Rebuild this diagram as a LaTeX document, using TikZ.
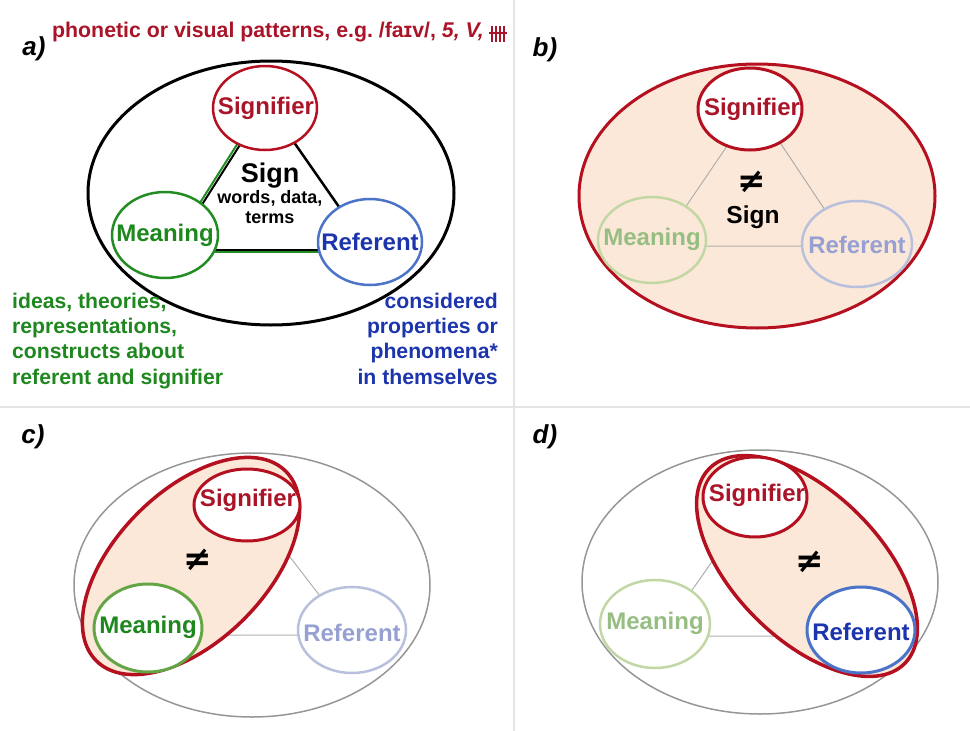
\documentclass[tikz,border=0pt]{standalone}
\usepackage{fontspec}
\setmainfont{Liberation Sans}
\newfontfamily\dejavu{DejaVu Sans}
\usetikzlibrary{shapes.geometric}
\definecolor{sred}{RGB}{180,16,32}
\definecolor{sredtext}{RGB}{170,20,40}
\definecolor{sgreen}{RGB}{30,135,30}
\definecolor{sgreenline}{RGB}{35,140,35}
\definecolor{cgreenline}{RGB}{100,165,70}
\definecolor{sblue}{RGB}{28,52,172}
\definecolor{sblueline}{RGB}{75,115,200}
\definecolor{fgreenline}{RGB}{195,215,165}
\definecolor{fgreentext}{RGB}{150,190,130}
\definecolor{fblueline}{RGB}{185,192,222}
\definecolor{fbluetext}{RGB}{150,160,210}
\definecolor{peach}{RGB}{252,232,216}
\definecolor{outergray}{RGB}{150,150,150}
\definecolor{trigray}{RGB}{175,175,175}
\definecolor{sepgray}{RGB}{228,228,228}
\tikzset{
  ell/.style={ellipse, inner sep=0pt, outer sep=0pt},
  lab/.style={font=\bfseries\fontsize{24}{28}\selectfont, inner sep=0pt},
  panel/.style={font=\bfseries\itshape\fontsize{26}{30}\selectfont, inner sep=0pt},
  note/.style={font=\bfseries\fontsize{21.2}{25.4}\selectfont, inner sep=0pt},
  neq/.style={font=\dejavu\bfseries\fontsize{34}{38}\selectfont, inner sep=0pt},
  tri/.style={trigray, line width=1pt},
  outer/.style={ell, draw=outergray, line width=1.5pt},
}
\begin{document}
\begin{tikzpicture}[x=1pt,y=-1pt]
\useasboundingbox (0,0) rectangle (970,731);
% separators
\draw[sepgray, line width=2pt] (514,0) -- (514,731);
\draw[sepgray, line width=2pt] (0,407) -- (970,407);

% ---------------- panel a
\node[panel] (la) at (34,49) {a)};
\node[sredtext, inner sep=0pt, anchor=base west, font=\bfseries\fontsize{21.3}{25}\selectfont] (ta) at (52,37)
  {phonetic or visual patterns, e.g.\ /faɪv/, \textit{5, V,}};
\coordinate (t1) at (492,26); \coordinate (t1b) at (492,42);
\coordinate (t2) at (496,26); \coordinate (t2b) at (496,42);
\coordinate (t3) at (500,26); \coordinate (t3b) at (500,42);
\coordinate (t4) at (504,26); \coordinate (t4b) at (504,42);
\coordinate (th1) at (489,33); \coordinate (th2) at (507,33);
\draw[sredtext, line width=1.6pt] (t1)--(t1b) (t2)--(t2b) (t3)--(t3b) (t4)--(t4b) (th1)--(th2);

\node[ell, draw=black, line width=3pt, minimum width=366pt, minimum height=264pt] (aO) at (271,193) {};
\coordinate (aT) at (266,102); \coordinate (aL) at (172,250); \coordinate (aR) at (369,250);
\draw[sgreenline, line width=2pt] ([xshift=-2pt]aT) -- ([xshift=-2pt]aL);
\draw[black, line width=2pt] ([xshift=1.2pt]aT) -- ([xshift=1.2pt]aL);
\draw[black, line width=3pt] (aL) -- (aR);
\draw[sgreenline, line width=1.5pt] ([yshift=-2pt]aL) -- ([yshift=-2pt]aR);
\draw[black, line width=2.5pt] (aT) -- (aR);
\node[ell, draw=sred, line width=2.5pt, fill=white, minimum width=104pt, minimum height=84pt] (aS) at (265,108) {};
\node[ell, draw=sgreenline, line width=2.5pt, fill=white, minimum width=106pt, minimum height=86pt] (aM) at (165,235) {};
\node[ell, draw=sblueline, line width=2.5pt, fill=white, minimum width=104pt, minimum height=86pt] (aR2) at (370,242) {};
\node[lab, sredtext] (aSt) at (266,108) {Signifier};
\node[lab, sgreen] (aMt) at (165,235) {Meaning};
\node[lab, sblue] (aRt) at (370,242) {Referent};
\node[inner sep=0pt, font=\bfseries\fontsize{27}{30}\selectfont] (aSign) at (270,176) {Sign};
\node[inner sep=0pt, align=center, font=\bfseries\fontsize{18}{20.5}\selectfont, anchor=north] (aWords) at (270,190) {words, data,\\terms};
\node[note, sgreen, align=left, anchor=north west] (gn) at (12,292.5)
  {ideas, theories,\\representations,\\constructs about\\referent and signifier};
\node[note, sblue, align=right, anchor=north east] (bn) at (498,292.5)
  {considered\\properties or\\phenomena*\\in themselves};

% ---------------- panel b
\node[panel] (lb) at (545,50) {b)};
\node[ell, draw=sred, line width=3pt, fill=peach, minimum width=356pt, minimum height=264pt] (bO) at (757,196) {};
\coordinate (bT) at (755,105); \coordinate (bL) at (659,246); \coordinate (bR) at (849,246);
\draw[tri] (bT) -- (bL) -- (bR) -- cycle;
\node[ell, draw=sred, line width=3pt, fill=white, minimum width=104pt, minimum height=82pt] (bS) at (750,109) {};
\node[ell, draw=fgreenline, line width=2.5pt, fill=peach, minimum width=108pt, minimum height=86pt] (bM) at (652,240) {};
\node[ell, draw=fblueline, line width=2.5pt, fill=peach, minimum width=110pt, minimum height=86pt] (bR2) at (857,244) {};
\node[lab, sredtext] (bSt) at (752,109) {Signifier};
\node[lab, fgreentext] (bMt) at (652,239) {Meaning};
\node[lab, fbluetext] (bRt) at (857,245) {Referent};
\node[neq] (bNe) at (752,182) {≠};
\node[inner sep=0pt, font=\bfseries\fontsize{24.5}{28}\selectfont] (bSign) at (753,217) {Sign};

% ---------------- panel c
\node[panel] (lc) at (33,437) {c)};
\node[outer, minimum width=356pt, minimum height=264pt] (cO) at (252,585) {};
\coordinate (cT) at (250,505); \coordinate (cL) at (150,635); \coordinate (cR) at (350,635);
\draw[tri] (cT) -- (cL) -- (cR) -- cycle;
\node[ell, draw=sred, line width=3.5pt, fill=peach, minimum width=268pt, minimum height=150pt, rotate=45] (cE) at (191,566) {};
\node[ell, draw=sred, line width=3pt, fill=white, minimum width=106pt, minimum height=72pt] (cS) at (247,505) {};
\node[ell, draw=cgreenline, line width=3pt, fill=white, minimum width=108pt, minimum height=88pt] (cM) at (148,628) {};
\node[ell, draw=fblueline, line width=2.5pt, fill=white, minimum width=108pt, minimum height=86pt] (cR2) at (352,630) {};
\node[lab, sredtext] (cSt) at (248,500) {Signifier};
\node[lab, sgreen] (cMt) at (148,627) {Meaning};
\node[lab, fbluetext] (cRt) at (352,633) {Referent};
\node[neq] (cNe) at (198,560) {≠};

% ---------------- panel d
\node[panel] (ld) at (545,437) {d)};
\node[outer, minimum width=356pt, minimum height=264pt] (dO) at (760,582) {};
\coordinate (dT) at (755,500); \coordinate (dL) at (660,636); \coordinate (dR) at (855,636);
\draw[tri] (dT) -- (dL) -- (dR) -- cycle;
\node[ell, draw=sred, line width=3.5pt, fill=peach, minimum width=276pt, minimum height=146pt, rotate=-45] (dE) at (807,566) {};
\node[ell, draw=sred, line width=3pt, fill=white, minimum width=104pt, minimum height=80pt] (dS) at (755,497) {};
\node[ell, draw=sblueline, line width=3pt, fill=white, minimum width=108pt, minimum height=86pt] (dR2) at (861,630) {};
\node[ell, draw=fgreenline, line width=2.5pt, fill=white, minimum width=110pt, minimum height=88pt] (dM) at (655,624) {};
\node[lab, sredtext] (dSt) at (757,495) {Signifier};
\node[lab, sblue] (dRt) at (861,632) {Referent};
\node[lab, fgreentext] (dMt) at (655,623) {Meaning};
\node[neq] (dNe) at (810,562) {≠};
\end{tikzpicture}
\end{document}
